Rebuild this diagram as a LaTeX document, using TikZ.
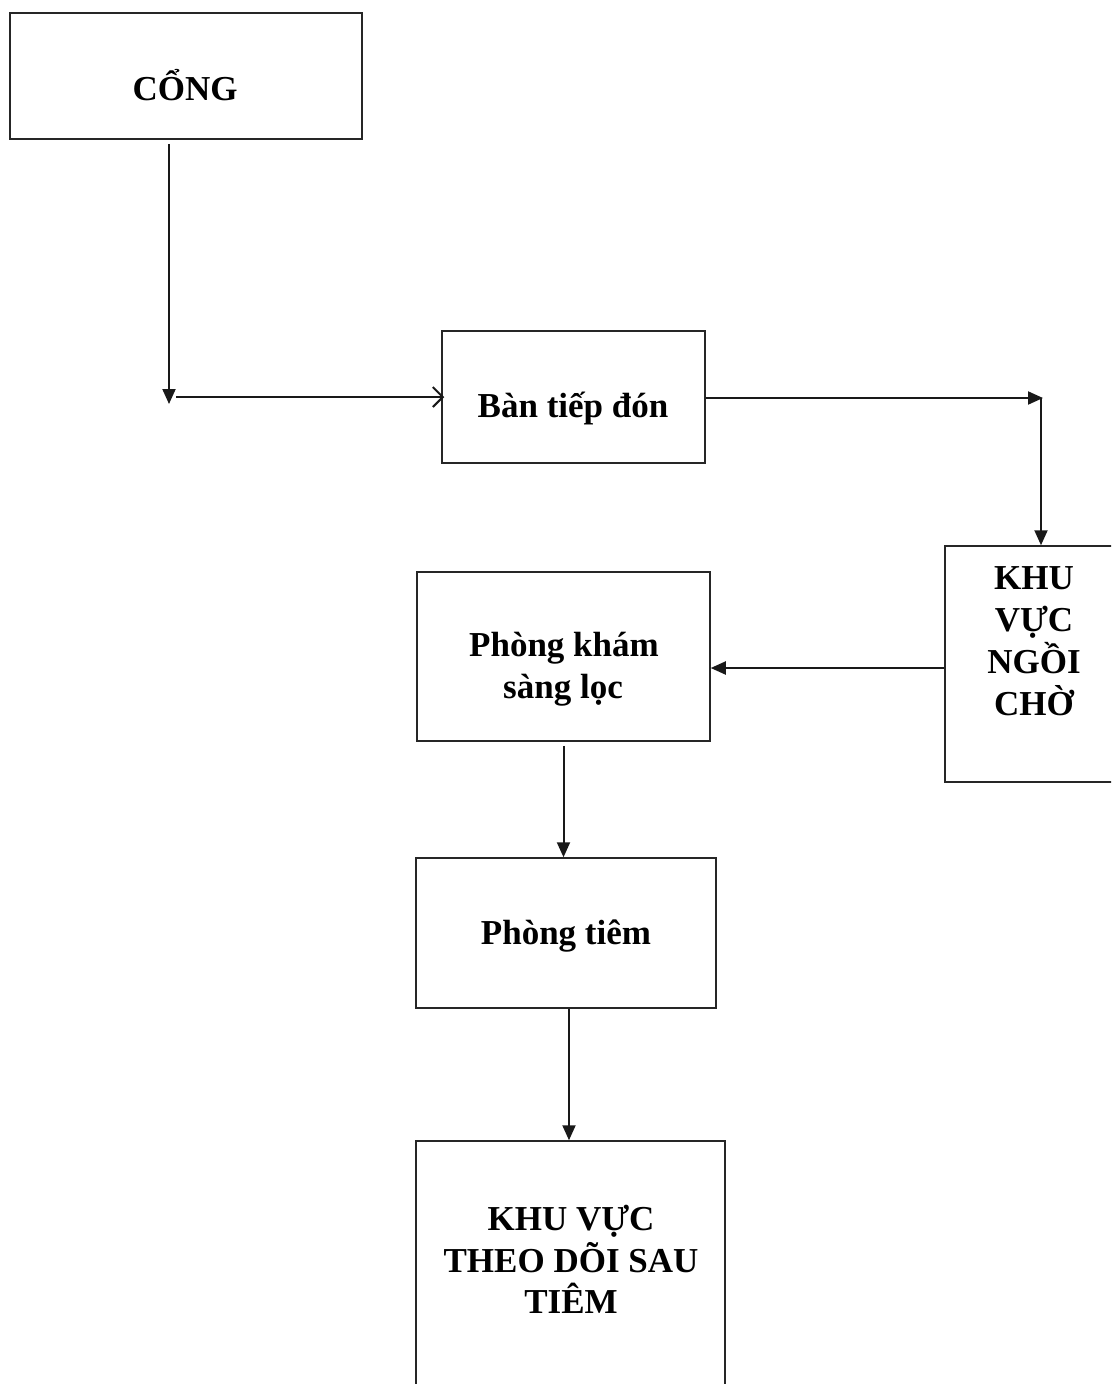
\documentclass[tikz,border=0pt]{standalone}
\usepackage{fontspec}
\setmainfont{Liberation Serif}
\usetikzlibrary{arrows.meta}
\tikzset{
  boxnode/.style={draw=black!85, line width=1.5pt, rectangle, inner sep=0pt},
  lbl/.style={font=\fontsize{35}{42}\selectfont\bfseries, text=black, align=center, anchor=base},
  conn/.style={line width=2pt, draw=black!90},
  tri/.style={conn, -{Triangle[length=15pt,width=13pt]}},
  barb/.style={conn, -{Straight Barb[length=10pt,width=20pt,line width=2pt]}}
}
\begin{document}
\begin{tikzpicture}[x=1pt,y=-1pt]
\useasboundingbox (0,0) rectangle (1111,1384);
\clip (0,0) rectangle (1111,1384);
% boxes
\node[boxnode, minimum width=352pt, minimum height=126pt] (cong) at (186,76) {};
\node[boxnode, minimum width=263pt, minimum height=132pt] (ban) at (573.5,397) {};
\node[boxnode, minimum width=178pt, minimum height=236pt] (cho) at (1034,664) {};
\node[boxnode, minimum width=293pt, minimum height=169pt] (kham) at (563.5,656.5) {};
\node[boxnode, minimum width=300pt, minimum height=150pt] (tiem) at (566,933) {};
\node[boxnode, minimum width=309pt, minimum height=300pt] (theo) at (570.5,1291) {};
% texts
\node[lbl] (tcong) at (185,100) {CỔNG};
\node[lbl] (tban) at (573,417) {Bàn tiếp đón};
\node[lbl] (tkham1) at (564,656) {Phòng khám};
\node[lbl] (tkham2) at (563,698) {sàng lọc};
\node[lbl] (ttiem) at (566,944) {Phòng tiêm};
\node[lbl] (tcho1) at (1034,589) {KHU};
\node[lbl] (tcho2) at (1034,631) {VỰC};
\node[lbl] (tcho3) at (1034,673) {NGỒI};
\node[lbl] (tcho4) at (1034,715) {CHỜ};
\node[lbl] (ttheo1) at (571,1230) {KHU VỰC};
\node[lbl] (ttheo2) at (571,1272) {THEO DÕI SAU};
\node[lbl] (ttheo3) at (571,1313) {TIÊM};
% corner coordinates
\coordinate (c1) at (169,404);
\coordinate (c2) at (1043,398);
\coordinate (c3) at (1041,398);
\coordinate (c4) at ([yshift=-4pt]cho.west);
% connectors
\draw[tri] ([yshift=-4pt]cong.south -| c1) -- (c1);
\draw[barb] ([xshift=7pt]c1 |- ban.west) -- ([xshift=3pt]ban.west);
\draw[tri] (ban.east |- c2) -- (c2);
\draw[tri] (c3) -- (c3 |- cho.north);
\draw[tri] (c4) -- (kham.east |- c4);
\draw[tri] ([yshift=-4pt]kham.south) -- (kham.south |- tiem.north);
\draw[tri] ([xshift=3pt]tiem.south) -- ([xshift=3pt]tiem.south |- theo.north);
\end{tikzpicture}
\end{document}
